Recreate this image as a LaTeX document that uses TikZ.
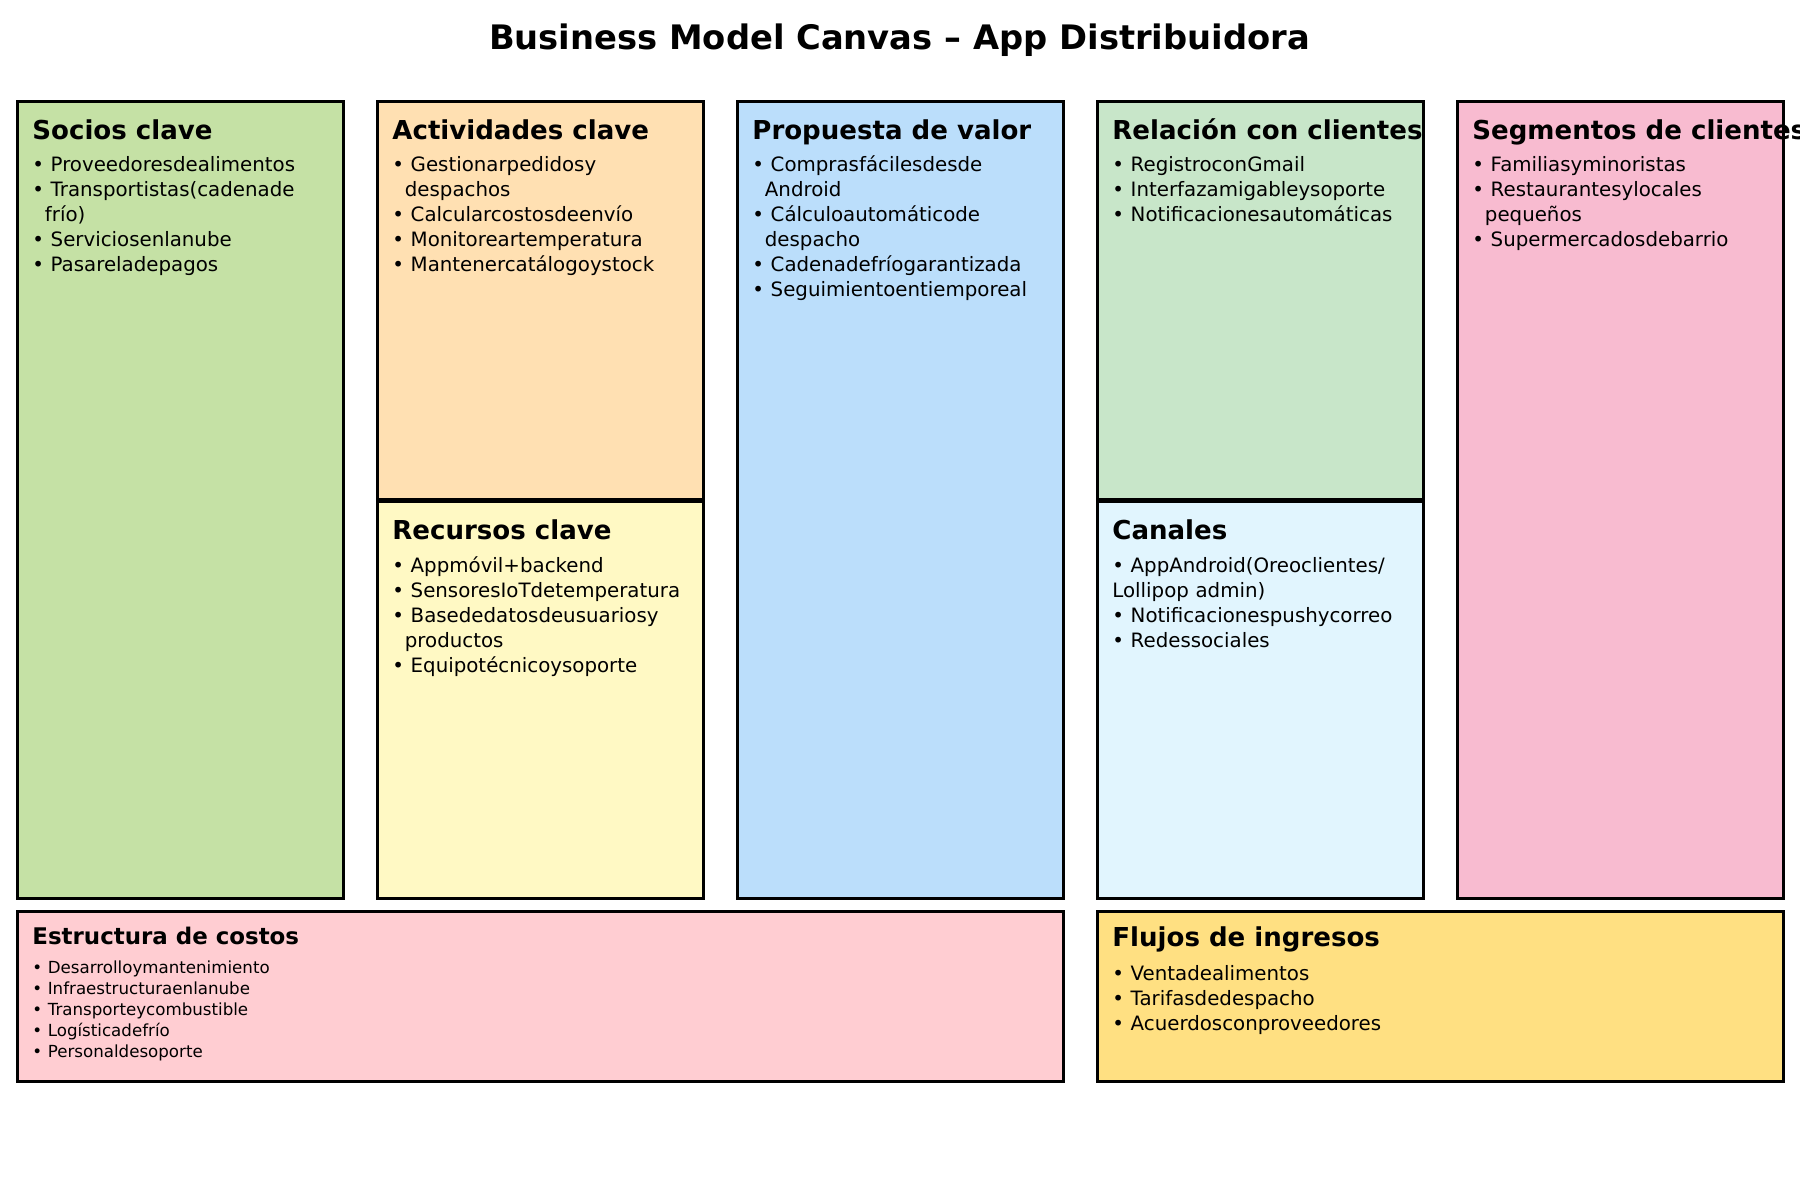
\documentclass[tikz,border=0pt]{standalone}
\usepackage{fontspec}
\setmainfont{DejaVu Sans}
\usetikzlibrary{positioning}
\setlength{\parindent}{0pt}
\newcommand{\pxu}{0.48pt}
\newcommand{\cont}{\hspace*{6pt}}
\definecolor{socfill}{HTML}{C5E1A5}
\definecolor{actfill}{HTML}{FFE0B2}
\definecolor{recfill}{HTML}{FFF9C4}
\definecolor{profill}{HTML}{BBDEFB}
\definecolor{relfill}{HTML}{C8E6C9}
\definecolor{canfill}{HTML}{E1F5FE}
\definecolor{segfill}{HTML}{F8BBD0}
\definecolor{cosfill}{HTML}{FFCDD2}
\definecolor{ingfill}{HTML}{FFE082}
\tikzset{
block/.style={draw=black,line width=1.44pt,anchor=north west,inner sep=0pt,minimum width=326*\pxu},
tall/.style={block,minimum height=796.5*\pxu},
upper/.style={block,minimum height=398*\pxu},
lower/.style={block,minimum height=396.5*\pxu},
wide/.style={block,minimum height=170.5*\pxu},
head/.style={anchor=base west,inner sep=0pt,xshift=16.5*\pxu,yshift=-#1*\pxu,font=\fontsize{12.5}{15}\selectfont\bfseries},
head/.default=39.5,
items/.style={anchor=base west,inner sep=0pt,xshift=16.5*\pxu,yshift=-#1*\pxu,text width=420*\pxu,align=left,font=\fontsize{9.5}{12}\selectfont},
items/.default=72,
smallhead/.style={head=34.5,font=\fontsize{11}{13}\selectfont\bfseries},
smallitems/.style={items=64,font=\fontsize{8}{10.1}\selectfont},
title/.style={font=\fontsize{16.2}{19}\selectfont\bfseries,inner sep=0pt}
}

\begin{document}
\begin{tikzpicture}[x=\pxu,y=-\pxu]
\useasboundingbox (0,0) rectangle (1800,1200);
\node[title] (ttl) at (899.5,40) {Business Model Canvas – App Distribuidora};

\node[tall,fill=socfill] (soc) at (15.5,100) {};
\node[upper,fill=actfill] (act) at (375.5,100) {};
\node[lower,fill=recfill] (rec) at (375.5,500) {};
\node[tall,fill=profill] (pro) at (735.5,100) {};
\node[upper,fill=relfill] (rel) at (1095.5,100) {};
\node[lower,fill=canfill] (can) at (1095.5,500) {};
\node[tall,fill=segfill] (seg) at (1455.5,100) {};
\node[wide,fill=cosfill,minimum width=1046*\pxu] (cos) at (15.5,909.5) {};
\node[wide,fill=ingfill,minimum width=686*\pxu] (ing) at (1095.5,909.5) {};

\node[head] (soch) at (soc.north west) {Socios clave};
\node[items] (soci) at (soc.north west) {• Proveedoresdealimentos\\ • Transportistas(cadenade\\ \cont frío)\\ • Serviciosenlanube\\ • Pasareladepagos};

\node[head] (acth) at (act.north west) {Actividades clave};
\node[items] (acti) at (act.north west) {• Gestionarpedidosy\\ \cont despachos\\ • Calcularcostosdeenvío\\ • Monitoreartemperatura\\ • Mantenercatálogoystock};

\node[head] (rech) at (rec.north west) {Recursos clave};
\node[items] (reci) at (rec.north west) {• Appmóvil+backend\\ • SensoresIoTdetemperatura\\ • Basededatosdeusuariosy\\ \cont productos\\ • Equipotécnicoysoporte};

\node[head] (proh) at (pro.north west) {Propuesta de valor};
\node[items] (proi) at (pro.north west) {• Comprasfácilesdesde\\ \cont Android\\ • Cálculoautomáticode\\ \cont despacho\\ • Cadenadefríogarantizada\\ • Seguimientoentiemporeal};

\node[head] (relh) at (rel.north west) {Relación con clientes};
\node[items] (reli) at (rel.north west) {• RegistroconGmail\\ • Interfazamigableysoporte\\ • Notificacionesautomáticas};

\node[head] (canh) at (can.north west) {Canales};
\node[items] (cani) at (can.north west) {• AppAndroid(Oreoclientes/\\ Lollipop admin)\\ • Notificacionespushycorreo\\ • Redessociales};

\node[head] (segh) at (seg.north west) {Segmentos de clientes};
\node[items] (segi) at (seg.north west) {• Familiasyminoristas\\ • Restaurantesylocales\\ \cont pequeños\\ • Supermercadosdebarrio};

\node[smallhead] (cosh) at (cos.north west) {Estructura de costos};
\node[smallitems] (cosi) at (cos.north west) {• Desarrolloymantenimiento\\ • Infraestructuraenlanube\\ • Transporteycombustible\\ • Logísticadefrío\\ • Personaldesoporte};

\node[head=37] (ingh) at (ing.north west) {Flujos de ingresos};
\node[items=71] (ingi) at (ing.north west) {• Ventadealimentos\\ • Tarifasdedespacho\\ • Acuerdosconproveedores};
\end{tikzpicture}
\end{document}
